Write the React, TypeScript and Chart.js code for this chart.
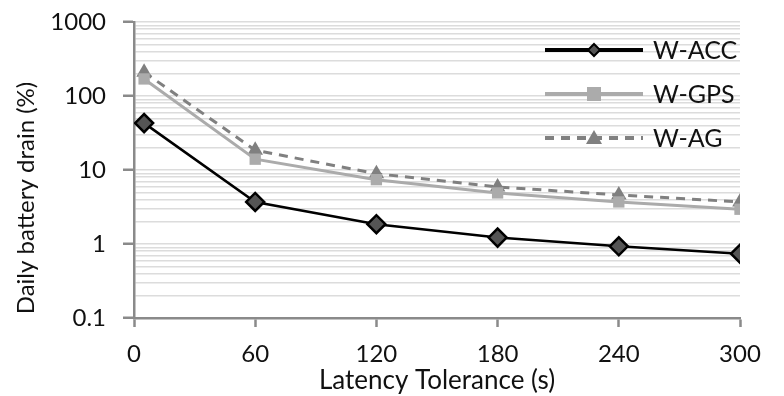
import React, { useEffect, useRef } from "react";
import { Chart, registerables } from "chart.js";

Chart.register(...registerables);

const xValues = [5, 60, 120, 180, 240, 300];
const seriesNames = ["W-ACC", "W-GPS", "W-AG"];
const wAcc = [43, 3.7, 1.85, 1.22, 0.93, 0.74];
const wGps = [170, 14, 7.4, 4.9, 3.7, 2.95];
const wAg = [210, 18.5, 8.9, 5.9, 4.6, 3.7];
const xTicks = [0, 60, 120, 180, 240, 300];
const yMajor = [0.1, 1, 10, 100, 1000];
const yTitle = "Daily battery drain (%)";
const xTitle = "Latency Tolerance (s)";

const FONT = "Lato, 'Open Sans', sans-serif";
const TEXT = "#111111";

function buildYTicks() {
  const out: number[] = [];
  for (let e = -1; e <= 2; e++) {
    for (let m = 1; m <= 9; m++) out.push(Number((m * Math.pow(10, e)).toPrecision(3)));
  }
  out.push(1000);
  return out;
}
const yAllTicks = buildYTicks();
const isMajor = (v: number) => yMajor.some((m) => Math.abs(m - v) < 1e-9);

const styles = [
  { color: "#000000", fill: "#555555", border: "#000000", style: "rectRot", radius: 9, width: 2.5, dash: [] as number[], legendWidth: 4 },
  { color: "#ababab", fill: "#ababab", border: "#ababab", style: "rect", radius: 8, width: 3, dash: [] as number[], legendWidth: 4 },
  { color: "#808080", fill: "#808080", border: "#808080", style: "triangle", radius: 9, width: 3, dash: [9, 7], legendWidth: 4 },
];

const overlayPlugin = {
  id: "overlay",
  afterDraw(chart: any) {
    const ctx = chart.ctx;
    ctx.save();
    ctx.fillStyle = TEXT;
    ctx.font = `24px ${FONT}`;
    ctx.textAlign = "center";
    ctx.textBaseline = "middle";
    ctx.translate(26, 198);
    ctx.rotate(-Math.PI / 2);
    ctx.fillText(yTitle, 0, 0);
    ctx.restore();

    const rows = [50, 94, 138];
    const x0 = 545, x1 = 643, cx = 594;
    seriesNames.forEach((name, i) => {
      const s = styles[i];
      const y = rows[i];
      ctx.save();
      ctx.strokeStyle = s.color;
      ctx.lineWidth = s.legendWidth;
      ctx.setLineDash(s.dash);
      ctx.beginPath();
      ctx.moveTo(x0, y);
      ctx.lineTo(x1, y);
      ctx.stroke();
      ctx.setLineDash([]);
      ctx.fillStyle = s.fill;
      ctx.strokeStyle = s.border;
      ctx.lineWidth = 2;
      ctx.beginPath();
      if (s.style === "rectRot") {
        const r = 6;
        ctx.moveTo(cx, y - r);
        ctx.lineTo(cx + r, y);
        ctx.lineTo(cx, y + r);
        ctx.lineTo(cx - r, y);
        ctx.closePath();
        ctx.fill();
        ctx.stroke();
      } else if (s.style === "rect") {
        ctx.rect(cx - 7, y - 7, 14, 14);
        ctx.fill();
      } else {
        ctx.moveTo(cx, y - 8);
        ctx.lineTo(cx + 8, y + 6);
        ctx.lineTo(cx - 8, y + 6);
        ctx.closePath();
        ctx.fill();
      }
      ctx.fillStyle = TEXT;
      ctx.font = `25px ${FONT}`;
      ctx.textAlign = "left";
      ctx.textBaseline = "middle";
      ctx.fillText(name, 653, y + 1);
      ctx.restore();
    });
  },
};

export default function App() {
  const ref = useRef<HTMLCanvasElement>(null);
  useEffect(() => {
    document.body.style.margin = "0";
    const toPts = (arr: number[]) => arr.map((y, i) => ({ x: xValues[i], y }));
    const data = [wAcc, wGps, wAg];
    const chart = new Chart(ref.current!, {
      type: "line",
      data: {
        datasets: data.map((arr, i) => ({
          label: seriesNames[i],
          data: toPts(arr),
          borderColor: styles[i].color,
          borderWidth: styles[i].width,
          borderDash: styles[i].dash,
          pointStyle: styles[i].style as any,
          pointRadius: styles[i].radius,
          pointBackgroundColor: styles[i].fill,
          pointBorderColor: styles[i].border,
          pointBorderWidth: i === 0 ? 2.5 : 0,
          tension: 0,
          fill: false,
        })),
      },
      options: {
        animation: false,
        responsive: false,
        maintainAspectRatio: false,
        layout: { padding: { top: 22, right: 44, left: 0, bottom: 0 } },
        plugins: { legend: { display: false }, tooltip: { enabled: false } },
        scales: {
          x: {
            type: "linear",
            min: 0,
            max: 300,
            afterBuildTicks: (scale: any) => {
              scale.ticks = xTicks.map((v) => ({ value: v }));
            },
            afterFit: (scale: any) => {
              scale.height = 78;
              scale.paddingLeft = 0;
              scale.paddingRight = 0;
            },
            grid: { drawOnChartArea: false, tickLength: 9, tickColor: "#8a8a8a", tickWidth: 2.5 },
            border: { color: "#8a8a8a", width: 2.5 },
            ticks: { color: TEXT, font: { family: FONT, size: 24 }, padding: 13, maxRotation: 0 },
            title: { display: true, text: xTitle, color: TEXT, font: { family: FONT, size: 26 }, padding: { top: 0, bottom: 0 } },
          },
          y: {
            type: "logarithmic",
            min: 0.1,
            max: 1000,
            afterBuildTicks: (scale: any) => {
              scale.ticks = yAllTicks.map((v) => ({ value: v }));
            },
            afterFit: (scale: any) => {
              scale.width = 134;
              scale.paddingTop = 0;
              scale.paddingBottom = 0;
            },
            grid: {
              color: "#dcdcdc",
              lineWidth: 1.5,
              tickLength: 11,
              tickColor: (c: any) => (c.tick && isMajor(c.tick.value) ? "#8a8a8a" : "rgba(0,0,0,0)"),
              tickWidth: 2.5,
            },
            border: { color: "#8a8a8a", width: 2.5 },
            ticks: {
              autoSkip: false,
              color: TEXT,
              font: { family: FONT, size: 24 },
              padding: 17,
              callback: (v: any) => (isMajor(Number(v)) ? String(Number(v)) : ""),
            },
          },
        },
      },
      plugins: [overlayPlugin],
    });
    return () => chart.destroy();
  }, []);
  return (
    <div style={{ position: "absolute", left: 0, top: 0, width: 784, height: 396, background: "#fff" }}>
      <canvas ref={ref} width={784} height={396} />
    </div>
  );
}
